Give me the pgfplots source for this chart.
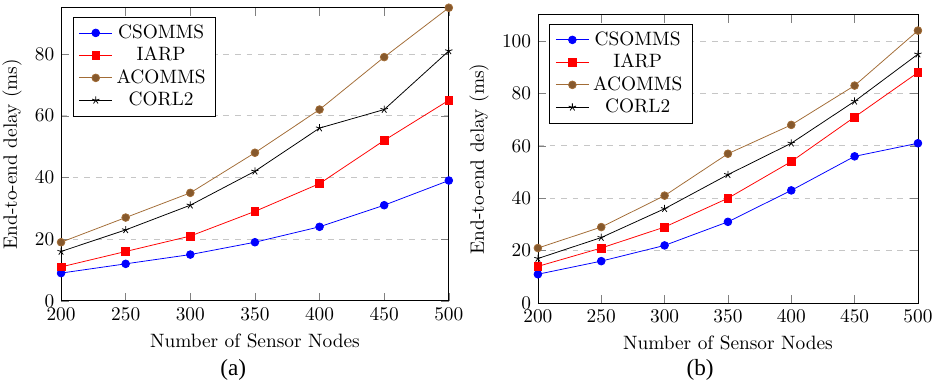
\documentclass[border=0pt]{standalone}
\usepackage{pgfplots}
\pgfplotsset{compat=1.18}
\usepackage{fontspec}
\newfontfamily\capfont{Liberation Serif}
\begin{document}
\begin{tikzpicture}
\pgfplotsset{
  myax/.style={
    scale only axis,
    xmin=200, xmax=500,
    ymin=0,
    xtick={200,250,300,350,400,450,500},
    ymajorgrids,
    grid style={dashed, gray!45},
    xlabel={Number of Sensor Nodes},
    ylabel={End-to-end delay (ms)},
    legend pos=north west,
    legend cell align=center,
    legend style={font=\normalsize, row sep=-1pt},
  }
}
\path[use as bounding box] (0,0) rectangle (17cm,7cm);
\begin{axis}[myax, at={(1.11cm,1.53cm)}, anchor=south west,
  width=7.05cm, height=5.33cm, ymax=95, ytick={0,20,40,60,80}]
\addplot[blue, mark=*, mark options={fill=blue}] coordinates {(200,9) (250,12) (300,15) (350,19) (400,24) (450,31) (500,39)};
\addplot[red, mark=square*, mark options={fill=red}] coordinates {(200,11) (250,16) (300,21) (350,29) (400,38) (450,52) (500,65)};
\addplot[brown!85!black, mark=*, mark options={fill=brown!70!black}] coordinates {(200,19) (250,27) (300,35) (350,48) (400,62) (450,79) (500,95)};
\addplot[black, mark=star] coordinates {(200,16) (250,23) (300,31) (350,42) (400,56) (450,62) (500,81)};
\legend{CSOMMS, IARP, ACOMMS, CORL2}
\end{axis}
\begin{axis}[myax, at={(9.78cm,1.49cm)}, anchor=south west,
  width=6.91cm, height=5.24cm, ymax=110, ytick={0,20,40,60,80,100}]
\addplot[blue, mark=*, mark options={fill=blue}] coordinates {(200,11) (250,16) (300,22) (350,31) (400,43) (450,56) (500,61)};
\addplot[red, mark=square*, mark options={fill=red}] coordinates {(200,14) (250,21) (300,29) (350,40) (400,54) (450,71) (500,88)};
\addplot[brown!85!black, mark=*, mark options={fill=brown!70!black}] coordinates {(200,21) (250,29) (300,41) (350,57) (400,68) (450,83) (500,104)};
\addplot[black, mark=star] coordinates {(200,17) (250,25) (300,36) (350,49) (400,61) (450,77) (500,95)};
\legend{CSOMMS, IARP, ACOMMS, CORL2}
\end{axis}
\node[font=\capfont\large] at (4.24cm,0.27cm) {(a)};
\node[font=\capfont\large] at (12.73cm,0.27cm) {(b)};
\end{tikzpicture}
\end{document}
